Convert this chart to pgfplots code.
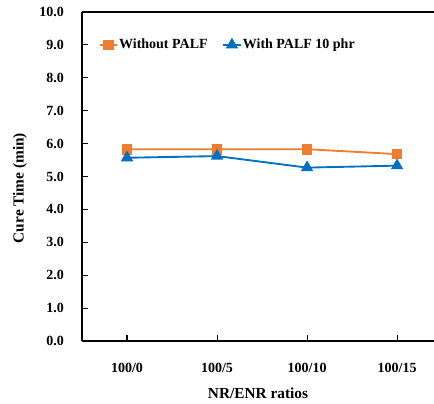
\documentclass[border=0pt]{standalone}
\usepackage{pgfplots}
\pgfplotsset{compat=1.18}
\usepackage{fontspec}
\setmainfont{Liberation Serif}
\definecolor{oran}{HTML}{ED7D31}
\definecolor{blu}{HTML}{0070C0}
\begin{document}
\begin{tikzpicture}[x=0.75pt,y=0.75pt]
\useasboundingbox (-82,-62) rectangle (352,341);
\begin{axis}[
  at={(0,0)}, anchor=south west,
  scale only axis, width=264pt, height=246.75pt,
  xmin=-0.5, xmax=3.41, ymin=0, ymax=10,
  axis line style={line width=1.1pt},
  axis x line*=bottom, axis y line*=left,
  ytick={0,1,...,10},
  /pgf/number format/fixed, /pgf/number format/fixed zerofill, /pgf/number format/precision=1,
  /pgf/number format/assume math mode=true,
  xtick={0,1,2,3}, xticklabels={100/0,100/5,100/10,100/15},
  tick style={black, line width=0.8pt},
  major tick length=4.5pt,
  tick align=inside,
  font=\fontsize{10.5}{11}\selectfont\bfseries,
  ticklabel style={font=\fontsize{10.5}{11}\selectfont\bfseries},
  yticklabel style={xshift=-10pt},
  xticklabel style={yshift=-13pt},
  xlabel={NR/ENR ratios}, ylabel={Cure Time (min)},
  label style={font=\fontsize{11.5}{13}\selectfont\bfseries},
  xlabel style={at={(axis description cs:0.5,-0.158)}, anchor=center},
  ylabel style={at={(axis description cs:-0.176,0.465)}, anchor=center},
  legend style={draw=none, fill=none, at={(rel axis cs:0.035,0.9)}, anchor=west,
    legend columns=2, font=\fontsize{10.5}{11}\selectfont\bfseries,
    /tikz/every even column/.append style={column sep=10pt},
    /tikz/every odd column/.append style={column sep=0pt},
    nodes={inner xsep=1pt}},
  legend image code/.code={\draw[#1] (0pt,0pt) -- (13pt,0pt); \draw[#1,mark repeat=2,mark phase=2] plot coordinates {(0pt,0pt) (6.5pt,0pt) (13pt,0pt)};},
  clip=false,
]
\addplot[oran, line width=1.4pt, mark=square*, mark size=3.3pt] coordinates {(0,5.83) (1,5.83) (2,5.83) (3,5.68)};
\addlegendentry{Without PALF}
\addplot[blu, line width=1.4pt, mark=triangle*, mark size=4pt] coordinates {(0,5.57) (1,5.62) (2,5.27) (3,5.33)};
\addlegendentry{With PALF 10 phr}
\draw[line width=1.1pt] (rel axis cs:0,1) -- (rel axis cs:1,1);
\end{axis}
\end{tikzpicture}
\end{document}
